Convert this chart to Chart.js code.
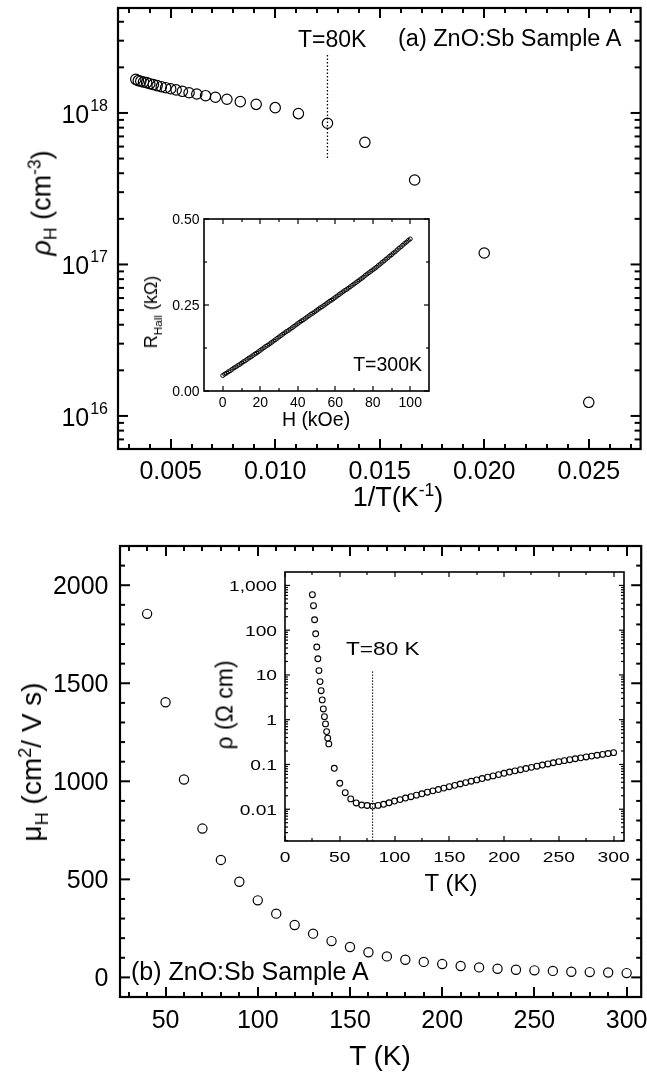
<!DOCTYPE html>
<html>
<head>
<meta charset="utf-8">
<script src="https://cdn.jsdelivr.net/npm/chart.js@4/dist/chart.umd.min.js"></script>
<style>
html,body{margin:0;padding:0;background:#fff;}
#wrap{position:relative;width:647px;height:1076px;overflow:hidden;font-family:"Liberation Sans",Arial,Helvetica,sans-serif;color:#000;}
canvas{position:absolute;left:0;top:0;}
.t{position:absolute;white-space:nowrap;line-height:1;z-index:5;}
.c{transform:translate(-50%,-50%);}
.l{transform:translate(0,-50%);}
.r{transform:translate(-100%,-50%);}
.v{transform:translate(-50%,-50%) rotate(-90deg);}
sub,sup{font-size:65%;line-height:0;}
</style>
</head>
<body>
<div id="wrap">
  <canvas id="cTop" width="647" height="1076" style="width:647px;height:1076px"></canvas>
  <canvas id="cTopIn" width="647" height="1076" style="width:647px;height:1076px"></canvas>
  <canvas id="cBot" width="647" height="1076" style="width:647px;height:1076px"></canvas>
  <canvas id="cBotIn" width="647" height="1076" style="width:647px;height:1076px"></canvas>

  <div class="t v" style="left:42px;top:203px;font-size:27px"><i>ρ</i><sub>H</sub> (cm<sup>-3</sup>)</div>
  <div class="t c" style="left:398px;top:497px;font-size:27px">1/T(K<sup>-1</sup>)</div>
  <div class="t l" style="left:298px;top:39px;font-size:23px">T=80K</div>
  <div class="t l" style="left:398px;top:39px;font-size:23.5px">(a) ZnO:Sb Sample A</div>
  <div class="t v" style="left:151px;top:312px;font-size:18px">R<sub>Hall</sub> (kΩ)</div>
  <div class="t c" style="left:316px;top:420px;font-size:19.5px">H (kOe)</div>
  <div class="t r" style="left:422px;top:365px;font-size:19.5px">T=300K</div>

  <div class="t v" style="left:32px;top:762px;font-size:28px">μ<sub>H</sub> (cm<sup>2</sup>/ V s)</div>
  <div class="t c" style="left:380px;top:1056px;font-size:28px">T (K)</div>
  <div class="t l" style="left:131px;top:971px;font-size:25px">(b) ZnO:Sb Sample A</div>
  <div class="t l" style="left:346px;top:650px;font-size:17.7px;transform-origin:0 50%;transform:translate(0,-50%) scaleX(1.28)">T=80 K</div>
  <div class="t v" style="left:225px;top:705px;font-size:23px">ρ (Ω cm)</div>
  <div class="t c" style="left:451px;top:883px;font-size:24px">T (K)</div>
</div>
<script>
// ---------------- data ----------------
// (a) main: hole density vs 1/T, T = 40 ... 300 K
const tempsK = [40,50,60,70,80,90,100,110,120,130,140,150,160,170,180,190,200,210,220,230,240,250,260,270,280,290,300];
const invT = [0.02500,0.02000,0.01667,0.01429,0.01250,0.01111,0.01000,0.00909,0.00833,0.00769,0.00714,0.00667,0.00625,0.00588,0.00556,0.00526,0.00500,0.00476,0.00455,0.00435,0.00417,0.00400,0.00385,0.00370,0.00357,0.00345,0.00333];
const holeDensity = [1.23e16,1.19e17,3.61e17,6.40e17,8.55e17,9.9e17,1.084e18,1.14e18,1.188e18,1.232e18,1.27e18,1.30e18,1.334e18,1.36e18,1.39e18,1.42e18,1.445e18,1.468e18,1.49e18,1.515e18,1.54e18,1.56e18,1.585e18,1.60e18,1.62e18,1.634e18,1.667e18];
const markInvT = 0.0125;
const markTopRange = [5.05e17, 2.49e18];

// (a) inset: Hall resistance vs field at 300 K
const fieldKOe = [0,1,2,3,4,5,6,7,8,9,10,11,12,13,14,15,16,17,18,19,20,21,22,23,24,25,26,27,28,29,30,31,32,33,34,35,36,37,38,39,40,41,42,43,44,45,46,47,48,49,50,51,52,53,54,55,56,57,58,59,60,61,62,63,64,65,66,67,68,69,70,71,72,73,74,75,76,77,78,79,80,81,82,83,84,85,86,87,88,89,90,91,92,93,94,95,96,97,98,99,100];
const rHall = [0.045,0.049,0.052,0.056,0.059,0.063,0.067,0.070,0.074,0.077,0.081,
  0.085,0.088,0.092,0.096,0.099,0.103,0.107,0.110,0.114,0.118,
  0.122,0.126,0.130,0.133,0.137,0.141,0.145,0.149,0.153,0.157,
  0.161,0.165,0.169,0.173,0.176,0.180,0.184,0.188,0.192,0.196,
  0.200,0.204,0.207,0.211,0.215,0.219,0.223,0.226,0.230,0.234,
  0.238,0.242,0.245,0.249,0.253,0.257,0.261,0.264,0.268,0.272,
  0.276,0.280,0.284,0.288,0.292,0.295,0.299,0.303,0.307,0.311,
  0.315,0.319,0.323,0.327,0.331,0.336,0.340,0.344,0.348,0.352,
  0.356,0.360,0.365,0.369,0.374,0.378,0.383,0.387,0.392,0.396,
  0.401,0.405,0.410,0.415,0.419,0.424,0.429,0.433,0.438,0.442];

// (b) main: Hall mobility vs T
const mobility = [1854,1403,1009,759,599,488,393,325,267,223,185,155,128,107,90,79,68,58,51,44,39,36,33,29,27,25,22];

// (b) inset: resistivity vs T
const rhoT = [25,26,27,28,29,30,31,32,33,34,35,36,37,38,39,40,45,50,55,60,65,70,75,80,85,90,95,100,105,110,115,120,125,130,135,140,145,150,155,160,165,170,175,180,185,190,195,200,205,210,215,220,225,230,235,240,245,250,255,260,265,270,275,280,285,290,295,300];
const rho = [620,352,171,83,42,23,12.5,7.1,4.45,2.77,1.74,1.17,0.805,0.542,0.386,0.288,
  0.082,0.038,0.0234,0.017,0.0138,0.0124,0.0121,
  0.01175,0.01216,0.01288,0.01396,0.01524,0.01641,0.01778,0.01905,0.02065,0.02213,
  0.02399,0.02570,0.02754,0.02965,0.03184,0.03412,0.03664,0.03936,0.04217,0.04519,
  0.04842,0.05188,0.05546,0.05943,0.06353,0.06761,0.07194,0.07638,0.08110,0.08610,
  0.09141,0.09705,0.1028,0.1091,0.1156,0.1216,0.1279,0.1343,0.1406,0.1472,
  0.1538,0.1607,0.1679,0.1754,0.1837];
const markT = 80;
const markInsetRange = [12, 0.00195];

// tick values / labels
const topXMajor = [0.005,0.010,0.015,0.020,0.025];
const topXLabels = ['0.005','0.010','0.015','0.020','0.025'];
const topYMajor = [1e16,1e17,1e18];
const topYExp = ['16','17','18'];
const topInXMajor = [0,20,40,60,80,100];
const topInXLabels = ['0','20','40','60','80','100'];
const topInYMajor = [0,0.25,0.5];
const topInYLabels = ['0.00','0.25','0.50'];
const botXMajor = [50,100,150,200,250,300];
const botXLabels = ['50','100','150','200','250','300'];
const botYMajor = [0,500,1000,1500,2000];
const botYLabels = ['0','500','1000','1500','2000'];
const botInXMajor = [0,50,100,150,200,250,300];
const botInXLabels = ['0','50','100','150','200','250','300'];
const botInYMajor = [0.01,0.1,1,10,100,1000];
const botInYLabels = ['0.01','0.1','1','10','100','1,000'];

// ---------------- helpers ----------------
const W = 647, H = 1076;
const FONT = '"Liberation Sans", Arial, Helvetica, sans-serif';

function range(a, b, step, exclude) {
  const out = [];
  for (let i = 0; a + i * step <= b + step * 1e-6; i++) {
    const v = +(a + i * step).toFixed(8);
    if (!exclude.some(e => Math.abs(e - v) < step * 1e-3)) out.push(v);
  }
  return out;
}
function logMinor(min, max) {
  const out = [];
  for (let e = Math.floor(Math.log10(min)); e <= Math.ceil(Math.log10(max)); e++) {
    for (let k = 2; k <= 9; k++) {
      const v = k * Math.pow(10, e);
      if (v > min && v < max) out.push(v);
    }
  }
  return out;
}
function seg(ctx, x1, y1, x2, y2) { ctx.beginPath(); ctx.moveTo(x1, y1); ctx.lineTo(x2, y2); ctx.stroke(); }
function txt(ctx, s, x, y, align, sc) {
  ctx.save(); ctx.translate(x, y); ctx.scale(sc || 1, 1); ctx.textAlign = align; ctx.fillText(s, 0, 0); ctx.restore();
}

function axesPlugin(id, c) {
  return {
    id,
    afterDatasetsDraw(chart) {
      const ctx = chart.ctx, a = chart.chartArea;
      const sx = chart.scales.x, sy = chart.scales.y;
      ctx.save();
      ctx.strokeStyle = '#000'; ctx.fillStyle = '#000'; ctx.lineCap = 'butt';
      ctx.lineWidth = c.tickWidth;
      const ticks = (vals, len, horiz) => {
        for (const v of vals) {
          if (horiz) { const p = Math.round(sx.getPixelForValue(v)) + 0.0; seg(ctx, p, a.bottom, p, a.bottom - len); seg(ctx, p, a.top, p, a.top + len); }
          else { const p = sy.getPixelForValue(v); seg(ctx, a.left, p, a.left + len, p); seg(ctx, a.right, p, a.right - len, p); }
        }
      };
      ticks(c.x.minor, c.minorLen, true); ticks(c.x.major, c.majorLen, true);
      ticks(c.y.minor, c.yMinorLen || c.minorLen, false); ticks(c.y.major, c.majorLen, false);
      ctx.lineWidth = c.frameWidth;
      ctx.strokeRect(a.left, a.top, a.right - a.left, a.bottom - a.top);
      ctx.textBaseline = 'alphabetic';
      ctx.font = c.fontSize + 'px ' + FONT;
      c.x.major.forEach((v, i) => {
        const s = c.x.labels[i]; if (s == null) return;
        txt(ctx, s, sx.getPixelForValue(v), a.bottom + c.x.dy, 'center', c.stretch);
      });
      c.y.major.forEach((v, i) => {
        const s = c.y.labels[i]; if (s == null) return;
        const py = sy.getPixelForValue(v);
        const xr = a.left - c.y.gap;
        if (c.y.pow) {
          ctx.font = c.y.expSize + 'px ' + FONT;
          const ew = ctx.measureText(s).width;
          txt(ctx, s, xr, py + c.y.expDy, 'right', 1);
          ctx.font = c.fontSize + 'px ' + FONT;
          txt(ctx, '10', xr - ew - 1, py + c.y.dy, 'right', 1);
        } else {
          txt(ctx, s, xr, py + c.y.dy, 'right', c.stretch);
        }
      });
      ctx.restore();
    }
  };
}

function makeChart(id, area, xs, ys, datasets, plugin) {
  return new Chart(document.getElementById(id), {
    type: 'scatter',
    data: { datasets },
    options: {
      responsive: false, animation: false, devicePixelRatio: 1, events: [],
      layout: { padding: { left: area.l, top: area.t, right: W - area.r, bottom: H - area.b } },
      plugins: { legend: { display: false }, tooltip: { enabled: false } },
      scales: { x: Object.assign({ display: false }, xs), y: Object.assign({ display: false }, ys) }
    },
    plugins: [plugin]
  });
}
function circles(xv, yv, r, bw) {
  return {
    data: xv.map((v, i) => ({ x: v, y: yv[i] })),
    pointStyle: 'circle', pointRadius: r, pointBorderWidth: bw,
    pointBorderColor: '#000', pointBackgroundColor: 'rgba(0,0,0,0)', showLine: false
  };
}
function dotted(x, ys, w, dash) {
  return {
    type: 'line', data: ys.map(y => ({ x, y })), borderColor: '#000', borderWidth: w,
    borderDash: dash, pointRadius: 0, showLine: true, fill: false
  };
}

// ---------------- (a) main ----------------
const topXmin = 0.00248, topXmax = 0.02748, topYmin = 6.05e15, topYmax = 4.93e18;
makeChart('cTop', { l: 118, t: 8, r: 642, b: 449 },
  { type: 'linear', min: topXmin, max: topXmax },
  { type: 'logarithmic', min: topYmin, max: topYmax },
  [dotted(markInvT, markTopRange, 1.3, [1.5, 2]), circles(invT, holeDensity, 5.2, 1.2)],
  axesPlugin('axTop', {
    tickWidth: 2, frameWidth: 2.2, majorLen: 10, minorLen: 5, yMinorLen: 6, fontSize: 25, stretch: 1,
    x: { major: topXMajor, minor: range(0.003, 0.027, 0.001, topXMajor), labels: topXLabels, dy: 30 },
    y: { major: topYMajor, minor: logMinor(topYmin, topYmax), labels: topYExp, gap: 10, dy: 10, pow: true, expSize: 16, expDy: -2 }
  }));

// ---------------- (a) inset ----------------
makeChart('cTopIn', { l: 204, t: 219, r: 429, b: 391 },
  { type: 'linear', min: -10, max: 110 },
  { type: 'linear', min: 0, max: 0.5 },
  [circles(fieldKOe, rHall, 2, 1)],
  axesPlugin('axTopIn', {
    tickWidth: 1.2, frameWidth: 1.6, majorLen: 5, minorLen: 3, fontSize: 14, stretch: 1,
    x: { major: topInXMajor, minor: range(10, 90, 20, []), labels: topInXLabels, dy: 16 },
    y: { major: topInYMajor, minor: [0.125, 0.375], labels: topInYLabels, gap: 4.5, dy: 5 }
  }));

// ---------------- (b) main ----------------
makeChart('cBot', { l: 120, t: 546, r: 643, b: 997 },
  { type: 'linear', min: 25.3, max: 307.9 },
  { type: 'linear', min: -100, max: 2200 },
  [circles(tempsK, mobility, 4.6, 1.2)],
  axesPlugin('axBot', {
    tickWidth: 2, frameWidth: 2.2, majorLen: 10, minorLen: 5, fontSize: 25, stretch: 1,
    x: { major: botXMajor, minor: range(30, 300, 10, botXMajor), labels: botXLabels, dy: 31 },
    y: { major: botYMajor, minor: range(100, 2100, 100, botYMajor), labels: botYLabels, gap: 11.5, dy: 8.5 }
  }));

// ---------------- (b) inset ----------------
const biYmin = 0.00195, biYmax = 1995;
makeChart('cBotIn', { l: 285, t: 572, r: 624, b: 841 },
  { type: 'linear', min: 0, max: 309.5 },
  { type: 'logarithmic', min: biYmin, max: biYmax },
  [dotted(markT, markInsetRange, 1, [1.5, 1.5]), circles(rhoT, rho, 2.9, 1.1)],
  axesPlugin('axBotIn', {
    tickWidth: 1.2, frameWidth: 1.6, majorLen: 5, minorLen: 3, fontSize: 15, stretch: 1.28,
    x: { major: botInXMajor, minor: range(25, 275, 50, []), labels: botInXLabels, dy: 20.5 },
    y: { major: botInYMajor, minor: logMinor(biYmin, biYmax), labels: botInYLabels, gap: 8, dy: 5.5 }
  }));
</script>
</body>
</html>
